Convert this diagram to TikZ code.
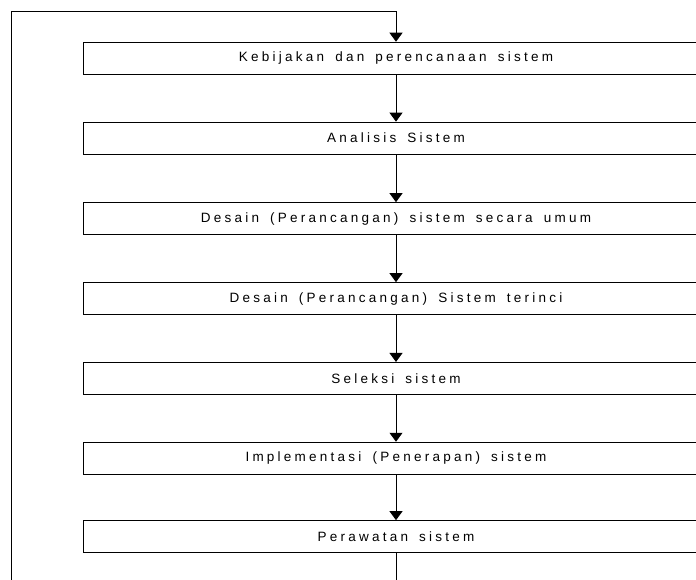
\documentclass[tikz,border=0pt]{standalone}
\usepackage{fontspec}
\setmainfont{Liberation Sans}
\newfontfamily\stagefont[LetterSpace=24,WordSpace=1.6]{Liberation Sans}
\usetikzlibrary{arrows.meta}

\tikzset{
  stage/.style={draw=black, line width=0.9pt, minimum width=626pt, minimum height=32pt,
    inner sep=0pt, font=\stagefont\fontsize{13.5}{15}\selectfont},
  flow/.style={line width=0.9pt, -{Triangle[width=13pt,length=9pt]}},
  loopline/.style={line width=0.9pt},
}

\begin{document}
\begin{tikzpicture}[x=1pt,y=-1pt]
  \useasboundingbox (0,0) rectangle (696,580);
  \clip (0,0) rectangle (696,580);

  % stages of the system development cycle
  \node[stage] (b1) at (396,58.2)  {Kebijakan dan perencanaan sistem};
  \node[stage] (b2) at (396,138.1) {Analisis Sistem};
  \node[stage] (b3) at (396,218.6) {Desain (Perancangan) sistem secara umum};
  \node[stage] (b4) at (396,298.6) {Desain (Perancangan) Sistem terinci};
  \node[stage] (b5) at (396,378.4) {Seleksi sistem};
  \node[stage] (b6) at (396,458.2) {Implementasi (Penerapan) sistem};
  \node[stage] (b7) at (396,536.6) {Perawatan sistem};

  % flow between stages
  \draw[flow] (b1.south) -- (b2.north);
  \draw[flow] (b2.south) -- (b3.north);
  \draw[flow] (b3.south) -- (b4.north);
  \draw[flow] (b4.south) -- (b5.north);
  \draw[flow] (b5.south) -- (b6.north);
  \draw[flow] (b6.south) -- (b7.north);

  % feedback loop back to the first stage
  \coordinate (loopTL) at (11,11);
  \coordinate (loopBL) at (11,590);
  \coordinate (loopBR) at (396,590);
  \draw[loopline] (b7.south) -- (loopBR);
  \draw[loopline] (loopBL) -- (loopTL);
  \draw[flow] (loopTL) -- (b1.north |- loopTL) -- (b1.north);
\end{tikzpicture}
\end{document}
